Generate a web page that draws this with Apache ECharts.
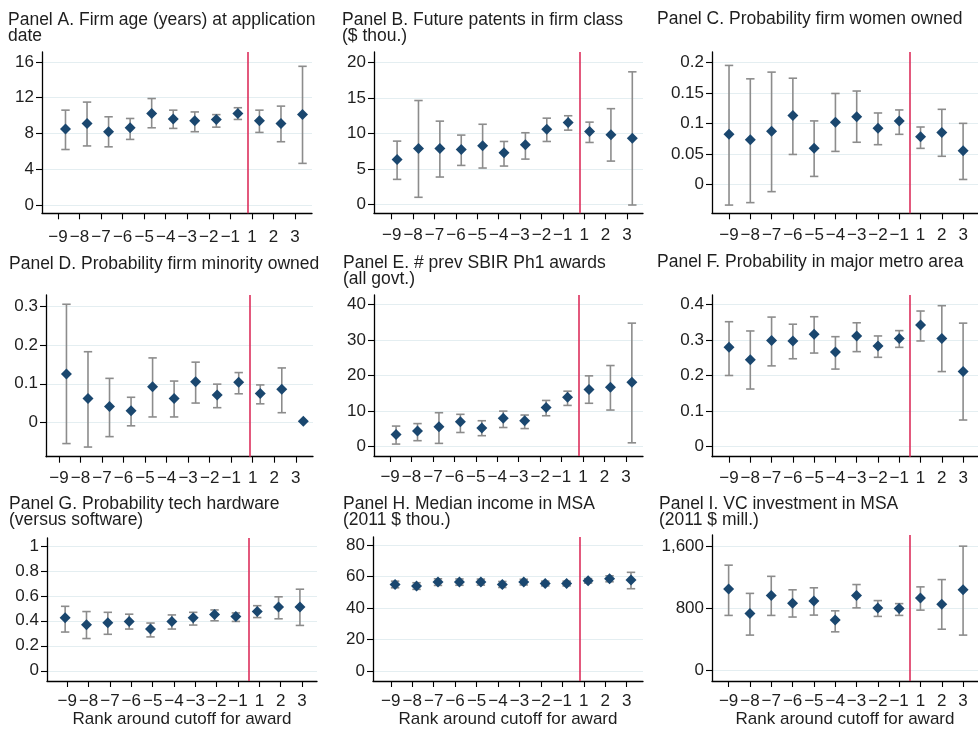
<!DOCTYPE html>
<html><head><meta charset="utf-8">
<script src="https://cdn.jsdelivr.net/npm/echarts@6/dist/echarts.min.js"></script>
<style>html,body{margin:0;padding:0;background:#fff}#c{width:978px;height:729px}</style>
</head><body><div id="c"></div>
<script>
// ---- data ----
const rankLabels = ['−9','−8','−7','−6','−5','−4','−3','−2','−1','1','2','3'];

const firmAge   = [8.48, 9.12, 8.19, 8.63, 10.23, 9.6, 9.41, 9.56, 10.23, 9.41, 9.12, 10.12];
const firmAgeLo = [6.2, 6.6, 6.5, 7.33, 8.63, 8.56, 8.19, 8.7, 9.56, 8.11, 7.07, 4.65];
const firmAgeHi = [10.6, 11.5, 9.86, 9.67, 11.9, 10.6, 10.4, 10.1, 10.87, 10.6, 11.05, 15.5];

const patents   = [6.34, 7.89, 7.89, 7.75, 8.26, 7.28, 8.4, 10.6, 11.55, 10.28, 9.81, 9.34];
const patentsLo = [3.52, 0.99, 3.85, 5.49, 5.12, 5.4, 6.38, 8.87, 10.47, 8.73, 6.1, -0.1];
const patentsHi = [8.92, 14.65, 11.74, 9.77, 11.3, 8.87, 10.1, 12.16, 12.5, 11.6, 13.5, 18.7];

const women   = [0.082, 0.073, 0.087, 0.113, 0.059, 0.102, 0.111, 0.092, 0.104, 0.078, 0.085, 0.055];
const womenLo = [-0.034, -0.03, -0.012, 0.049, 0.013, 0.054, 0.069, 0.065, 0.082, 0.059, 0.046, 0.008];
const womenHi = [0.195, 0.173, 0.184, 0.174, 0.104, 0.149, 0.153, 0.117, 0.122, 0.094, 0.123, 0.1];

const minority   = [0.125, 0.062, 0.041, 0.030, 0.092, 0.062, 0.105, 0.071, 0.104, 0.075, 0.086, 0.003];
const minorityLo = [-0.055, -0.064, -0.037, -0.009, 0.014, 0.014, 0.05, 0.038, 0.074, 0.048, 0.025, null];
const minorityHi = [0.306, 0.183, 0.114, 0.065, 0.167, 0.107, 0.156, 0.099, 0.129, 0.097, 0.141, null];

const prevAwards   = [3.47, 4.4, 5.6, 7.0, 5.25, 8.0, 7.3, 11.05, 13.9, 16.1, 16.7, 18.1];
const prevAwardsLo = [0.75, 1.7, 0.94, 4.0, 3.1, 5.4, 5.1, 8.7, 11.6, 12.2, 10.3, 1.1];
const prevAwardsHi = [5.8, 6.5, 9.55, 9.1, 7.3, 10.0, 8.9, 13.0, 15.6, 19.9, 22.8, 34.7];

const metro   = [0.279, 0.244, 0.298, 0.297, 0.316, 0.266, 0.311, 0.283, 0.304, 0.342, 0.304, 0.211];
const metroLo = [0.2, 0.162, 0.227, 0.247, 0.263, 0.218, 0.267, 0.251, 0.279, 0.297, 0.211, 0.075];
const metroHi = [0.351, 0.325, 0.364, 0.344, 0.365, 0.309, 0.348, 0.311, 0.326, 0.381, 0.396, 0.347];

const hardware   = [0.424, 0.368, 0.384, 0.395, 0.334, 0.395, 0.424, 0.45, 0.434, 0.474, 0.51, 0.51];
const hardwareLo = [0.31, 0.258, 0.292, 0.334, 0.271, 0.334, 0.366, 0.4, 0.395, 0.426, 0.416, 0.363];
const hardwareHi = [0.516, 0.474, 0.468, 0.453, 0.382, 0.447, 0.468, 0.487, 0.463, 0.521, 0.592, 0.653];

const income   = [54.9, 53.9, 56.4, 56.4, 56.4, 54.9, 56.4, 55.5, 55.5, 57.2, 58.5, 57.8];
const incomeLo = [52.8, 51.8, 54.3, 54.4, 54.5, 53.0, 54.6, 54.0, 54.0, 55.8, 56.6, 52.2];
const incomeHi = [57.0, 56.0, 58.5, 58.4, 58.3, 56.8, 58.2, 57.0, 57.0, 58.6, 60.4, 62.6];

const vc   = [1050, 737, 969, 868, 897, 652, 969, 808, 800, 935, 855, 1041];
const vcLo = [711, 457, 711, 690, 715, 499, 808, 698, 711, 779, 533, 457];
const vcHi = [1359, 995, 1215, 1041, 1067, 770, 1109, 902, 863, 1079, 1173, 1604];

const ticksA = [0, 4, 8, 12, 16];
const ticksB = [0, 5, 10, 15, 20];
const ticksC = [0, 0.05, 0.1, 0.15, 0.2];
const ticksD = [0, 0.1, 0.2, 0.3];
const ticksE = [0, 10, 20, 30, 40];
const ticksF = [0, 0.1, 0.2, 0.3, 0.4];
const ticksG = [0, 0.2, 0.4, 0.6, 0.8, 1];
const ticksH = [0, 20, 40, 60, 80];
const ticksI = [0, 800, 1600];

const xTitle = 'Rank around cutoff for award';

// ---- layout ----
const FONT = '"Liberation Sans", Arial, Helvetica, sans-serif';
const panels = [
  {title:'Panel A. Firm age (years) at application\ndate', v:firmAge, lo:firmAgeLo, hi:firmAgeHi, ticks:ticksA,
   yMin:-0.93, yMax:17.1, xMin:-0.74, xMax:11.79, left:42, right:312, top:52, h:161.3, tx:8, ty:12, shift:0.35, cut:8.82, lm:16},
  {title:'Panel B. Future patents in firm class\n($ thou.)', v:patents, lo:patentsLo, hi:patentsHi, ticks:ticksB,
   yMin:-1.27, yMax:21.5, xMin:-0.83, xMax:11.75, left:374, right:643, top:52, h:161.3, tx:342, ty:12, shift:0.25, cut:8.77, lm:14},
  {title:'Panel C. Probability firm women owned', v:women, lo:womenLo, hi:womenHi, ticks:ticksC,
   yMin:-0.0475, yMax:0.217, xMin:-0.8, xMax:11.7, left:712, right:978, top:52, h:161.3, tx:657, ty:11, shift:0, cut:8.5, lm:14},
  {title:'Panel D. Probability firm minority owned', v:minority, lo:minorityLo, hi:minorityHi, ticks:ticksD,
   yMin:-0.089, yMax:0.33, xMin:-0.6, xMax:11.8, left:46, right:313, top:295, h:161.7, tx:9, ty:256, shift:0.35, cut:8.84, lm:13},
  {title:'Panel E. # prev SBIR Ph1 awards\n(all govt.)', v:prevAwards, lo:prevAwardsLo, hi:prevAwardsHi, ticks:ticksE,
   yMin:-2.6, yMax:42.6, xMin:-0.75, xMax:11.8, left:374, right:643, top:295, h:161, tx:343, ty:255, shift:0.28, cut:8.8, lm:13},
  {title:'Panel F. Probability in major metro area', v:metro, lo:metroLo, hi:metroHi, ticks:ticksF,
   yMin:-0.028, yMax:0.426, xMin:-0.8, xMax:11.7, left:712, right:978, top:295, h:161.7, tx:657, ty:254, shift:0, cut:8.5, lm:13},
  {title:'Panel G. Probability tech hardware\n(versus software)', v:hardware, lo:hardwareLo, hi:hardwareHi, ticks:ticksG,
   yMin:-0.082, yMax:1.063, xMin:-0.95, xMax:11.7, left:47, right:317, top:538, h:145, tx:9, ty:496, shift:-0.1, cut:8.5, lm:12, xname:true},
  {title:'Panel H. Median income in MSA\n(2011 $ thou.)', v:income, lo:incomeLo, hi:incomeHi, ticks:ticksH,
   yMin:-6.3, yMax:85, xMin:-0.83, xMax:11.76, left:373, right:643, top:537, h:146, tx:343, ty:496, shift:0.2, cut:8.8, lm:12, xname:true},
  {title:'Panel I. VC investment in MSA\n(2011 $ mill.)', v:vc, lo:vcLo, hi:vcHi, ticks:ticksI,
   yMin:-135, yMax:1748, xMin:-0.78, xMax:11.7, left:712, right:978, top:535, h:148, tx:659, ty:496, shift:0, cut:8.5, lm:12, xname:true}
];

const NAVY = '#1a476f', GRAY = '#8c8c8c', RED = '#dc2f5c', INK = '#1e1e1e';
const idx = rankLabels.map((_, k) => k);

const option = {
  animation: false,
  backgroundColor: '#fff',
  textStyle: {fontFamily: FONT},
  title: [], grid: [], xAxis: [], yAxis: [], series: []
};

panels.forEach((p, i) => {
  option.title.push({
    text: p.title, left: p.tx, top: p.ty, padding: 0,
    textStyle: {fontSize: 17.5, fontWeight: 'normal', color: INK, lineHeight: 16, fontFamily: FONT}
  });
  option.grid.push({left: p.left, top: p.top, width: p.right - p.left, height: p.h, containLabel: false});
  option.xAxis.push({
    type: 'value', gridIndex: i, min: p.xMin, max: p.xMax,
    axisLine: {show: true, onZero: false, lineStyle: {color: '#000', width: 1.3}},
    axisTick: {show: true, length: 6, customValues: idx, lineStyle: {color: '#000', width: 1.1}},
    axisLabel: {customValues: idx, formatter: v => rankLabels[Math.round(v)], fontSize: 17, color: INK, margin: p.lm, fontFamily: FONT},
    splitLine: {show: false},
    name: p.xname ? xTitle : '', nameLocation: 'middle', nameGap: 30,
    nameTextStyle: {fontSize: 17, color: INK, fontFamily: FONT}
  });
  option.yAxis.push({
    type: 'value', gridIndex: i, min: p.yMin, max: p.yMax,
    axisLine: {show: true, onZero: false, lineStyle: {color: '#000', width: 1.3}},
    axisTick: {show: true, length: 6, customValues: p.ticks, lineStyle: {color: '#000', width: 1.1}},
    axisLabel: {customValues: p.ticks, fontSize: 17, color: INK, margin: 8, fontFamily: FONT,
                formatter: v => v >= 1000 ? v.toLocaleString('en-US') : String(v)},
    splitLine: {show: true, lineStyle: {color: '#e4eef1', width: 1.2}}
  });
  option.series.push({
    type: 'custom', xAxisIndex: i, yAxisIndex: i, z: 2,
    data: p.v.map((_, k) => [k + p.shift, p.lo[k], p.hi[k]]),
    encode: {x: 0, y: [1, 2]},
    renderItem: (params, api) => {
      const x = api.value(0), lo = api.value(1), hi = api.value(2);
      if (lo == null || hi == null || isNaN(lo) || isNaN(hi)) return null;
      const a = api.coord([x, hi]), b = api.coord([x, lo]);
      const cw = 4.2;
      const st = {stroke: GRAY, lineWidth: 1.6};
      return {type: 'group', children: [
        {type: 'line', shape: {x1: a[0], y1: a[1], x2: b[0], y2: b[1]}, style: st},
        {type: 'line', shape: {x1: a[0] - cw, y1: a[1], x2: a[0] + cw, y2: a[1]}, style: st},
        {type: 'line', shape: {x1: b[0] - cw, y1: b[1], x2: b[0] + cw, y2: b[1]}, style: st}
      ]};
    }
  });
  option.series.push({
    type: 'scatter', xAxisIndex: i, yAxisIndex: i, z: 3,
    symbol: 'diamond', symbolSize: 11,
    itemStyle: {color: NAVY, opacity: 1},
    data: p.v.map((y, k) => [k + p.shift, y]),
    markLine: {
      silent: true, symbol: 'none', label: {show: false}, animation: false,
      lineStyle: {color: RED, width: 1.6, type: 'solid', opacity: 1},
      data: [{xAxis: p.cut}]
    }
  });
});

const chart = echarts.init(document.getElementById('c'), null, {renderer: 'canvas'});
chart.setOption(option);
</script>
</body></html>
